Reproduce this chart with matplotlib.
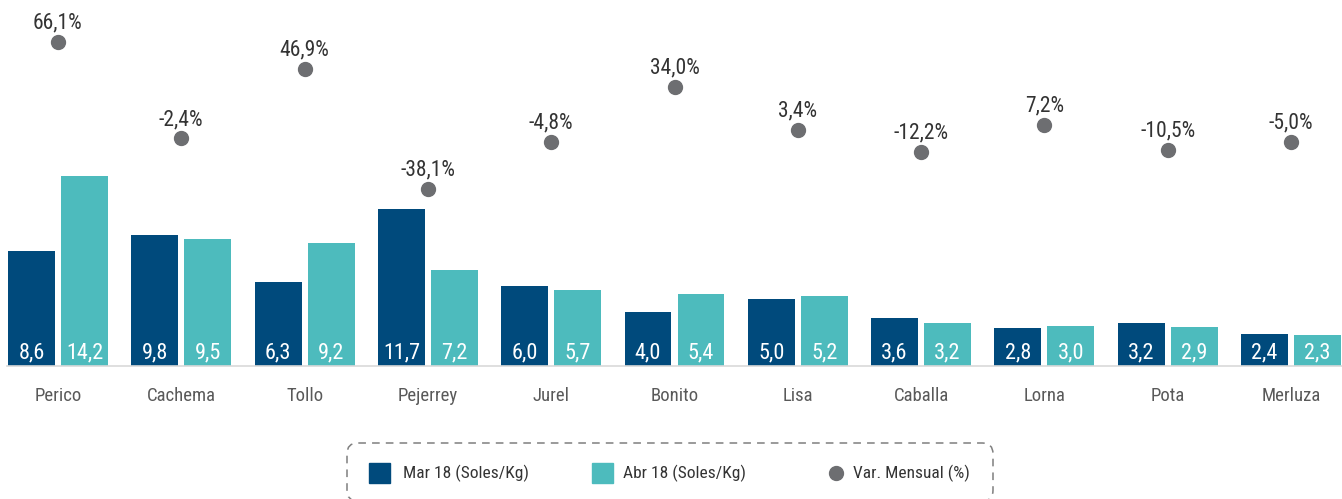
import numpy as np
import matplotlib
matplotlib.use("Agg")
import matplotlib.pyplot as plt
from matplotlib import font_manager
from matplotlib.patches import FancyBboxPatch, Rectangle
from matplotlib.lines import Line2D

species = ["Perico", "Cachema", "Tollo", "Pejerrey", "Jurel", "Bonito",
           "Lisa", "Caballa", "Lorna", "Pota", "Merluza"]
mar18 = [8.6, 9.8, 6.3, 11.7, 6.0, 4.0, 5.0, 3.6, 2.8, 3.2, 2.4]
abr18 = [14.2, 9.5, 9.2, 7.2, 5.7, 5.4, 5.2, 3.2, 3.0, 2.9, 2.3]
var_mensual = [66.1, -2.4, 46.9, -38.1, -4.8, 34.0, 3.4, -12.2, 7.2, -10.5, -5.0]

C_MAR = "#004a7c"
C_ABR = "#4dbbbd"
C_DOT = "#6d6e71"

# pick a narrow font if there is one
available = {f.name for f in font_manager.fontManager.ttflist}
family = "DejaVu Sans"
for cand in ["Liberation Sans Narrow", "Roboto Condensed", "Open Sans Condensed", "Roboto", "DejaVu Sans"]:
    if cand in available:
        family = cand
        break
plt.rcParams['font.family'] = [family, "DejaVu Sans"]

def fmt(v):
    return f"{v:.1f}".replace(".", ",")

fig = plt.figure(figsize=(13.42, 4.99), dpi=100)
W, H = 1342, 499
# baseline at y=366px from top, 13.4 px per sol
ax = fig.add_axes([0, (H - 366) / H, 1, 366 / H])
ax.set_ylim(0, 366 / 13.4)
x = np.arange(len(species))
ax.set_xlim((0 - 58) / 123.3, (W - 58) / 123.3)

bw = 0.38
off = 0.215
ax.bar(x - off, mar18, bw, color=C_MAR, zorder=2)
ax.bar(x + off, abr18, bw, color=C_ABR, zorder=2)

for xi, m, a in zip(x, mar18, abr18):
    ax.annotate(fmt(m), (xi - off, 0), xytext=(0, 2), textcoords="offset points",
                ha="center", va="bottom", color="white", fontsize=16)
    ax.annotate(fmt(a), (xi + off, 0), xytext=(0, 2), textcoords="offset points",
                ha="center", va="bottom", color="white", fontsize=16)

for s in ["top", "right", "left"]:
    ax.spines[s].set_visible(False)
ax.spines["bottom"].set_color("#d9d9d9")
ax.spines["bottom"].set_linewidth(1.2)
ax.spines["bottom"].set_bounds(-0.41, 10.41)
ax.set_yticks([])
ax.set_xticks(x)
ax.set_xticklabels(species, fontsize=13.5, color="#595959")
ax.tick_params(axis="x", length=0, pad=15)
ax.patch.set_alpha(0)

ax2 = ax.twinx()
ax2.set_ylim((134.9 - 366) / 1.412, 134.9 / 1.412)
ax2.plot(x, var_mensual, "o", color=C_DOT, markersize=10, zorder=3)
for xi, v in zip(x, var_mensual):
    ax2.annotate(fmt(v) + "%", (xi, v), xytext=(0, 6), textcoords="offset points",
                 ha="center", va="bottom", color="#333333", fontsize=15.5)
ax2.axis("off")

# legend, drawn in figure pixels
def fx(px):
    return px / W

def fy(py):
    return (H - py) / H

box = FancyBboxPatch((fx(347), fy(501)), fx(993) - fx(347), fy(443) - fy(501),
                     boxstyle="round,pad=0,rounding_size=0.008", transform=fig.transFigure,
                     facecolor="none", edgecolor="#7f7f7f", linestyle=(0, (5, 4)),
                     linewidth=1.1, mutation_aspect=W / H)
fig.add_artist(box)
fig.add_artist(Rectangle((fx(369), fy(483)), fx(21), fy(463) - fy(483),
                         transform=fig.transFigure, color=C_MAR))
fig.add_artist(Rectangle((fx(592), fy(483)), fx(21), fy(463) - fy(483),
                         transform=fig.transFigure, color=C_ABR))
fig.add_artist(Line2D([fx(836)], [fy(473)], marker="o", markersize=10, color=C_DOT,
                      transform=fig.transFigure))
fig.text(fx(403), fy(473), "Mar 18 (Soles/Kg)", va="center", ha="left", fontsize=12.5, color="#333333")
fig.text(fx(623), fy(473), "Abr 18 (Soles/Kg)", va="center", ha="left", fontsize=12.5, color="#333333")
fig.text(fx(853), fy(473), "Var. Mensual (%)", va="center", ha="left", fontsize=12.5, color="#333333")

fig.savefig("out.png", dpi=100)
